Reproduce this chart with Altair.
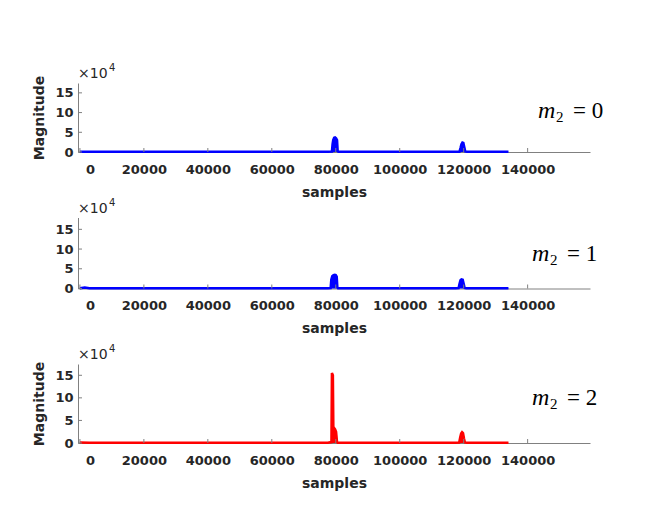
import altair as alt
import pandas as pd

# ---------------- data ----------------
x_ticks = [0, 20000, 40000, 60000, 80000, 100000, 120000, 140000]
y_ticks = [0, 50000, 100000, 150000]

# panel m2 = 0
x0 = [0, 3000, 6000, 10000, 14000, 18000, 22000, 26000, 30000, 34000, 38000,
      42000, 46000, 50000, 54000, 58000, 62000, 66000, 70000, 74000, 77500,
      78800, 79000, 79200, 79500, 79800, 80100, 80400, 80600, 80800,
      82000, 86000, 90000, 94000, 98000, 102000, 106000, 110000, 114000,
      117500, 118700, 119000, 119300, 119600, 119900, 120200, 120500, 121000,
      124000, 128000, 131000, 134000]
y0 = [900, 700, 800, 600, 700, 800, 600, 700, 800, 600, 700,
      800, 600, 700, 800, 600, 700, 800, 600, 700, 800,
      1000, 20000, 30000, 36000, 37000, 35000, 30000, 3000, 900,
      700, 800, 600, 700, 800, 600, 700, 800, 600,
      700, 900, 10000, 20000, 24000, 23000, 12000, 1500, 800,
      700, 600, 700, 600]

# panel m2 = 1
x1 = [0, 1500, 3000, 6000, 10000, 14000, 18000, 22000, 26000, 30000, 34000, 38000,
      42000, 46000, 50000, 54000, 58000, 62000, 66000, 70000, 74000, 77500,
      78400, 78600, 78900, 79300, 79700, 80000, 80300, 80500, 80700,
      82000, 86000, 90000, 94000, 98000, 102000, 106000, 110000, 114000,
      117500, 118400, 118700, 119000, 119300, 119700, 120000, 120300, 120800,
      124000, 128000, 131000, 134000]
y1 = [800, 2500, 800, 600, 700, 800, 600, 700, 800, 600, 700, 800,
      600, 700, 800, 600, 700, 800, 600, 700, 800, 700,
      1000, 22000, 31000, 34000, 34500, 34000, 30000, 3000, 900,
      700, 800, 600, 700, 800, 600, 700, 800, 600,
      700, 900, 12000, 21000, 23000, 22000, 12000, 1500, 800,
      700, 600, 700, 600]

# panel m2 = 2
x2 = [0, 3000, 6000, 10000, 14000, 18000, 22000, 26000, 30000, 34000, 38000,
      42000, 46000, 50000, 54000, 58000, 62000, 66000, 70000, 74000, 77500,
      78650, 78800, 79100, 79250, 79500, 79800, 80100, 80400, 80600,
      82000, 86000, 90000, 94000, 98000, 102000, 106000, 110000, 114000,
      117500, 118600, 118900, 119200, 119500, 119800, 120100, 120400, 121000,
      124000, 128000, 131000, 134000]
y2 = [900, 700, 800, 600, 700, 800, 600, 700, 800, 600, 700,
      800, 600, 700, 800, 600, 700, 800, 600, 700, 800,
      2000, 155000, 150000, 30000, 33000, 30000, 25000, 2000, 800,
      700, 800, 600, 700, 800, 600, 700, 800, 600,
      700, 900, 12000, 21000, 24000, 22000, 10000, 1200, 800,
      700, 600, 700, 600]

labels = ["0", "1", "2"]
colors = ["#0000FF", "#0000FF", "#FF0000"]

# ---------------- styling ----------------
AX = "#808080"
TXT = "#262626"
FONT = "DejaVu Sans"
X_DOMAIN = [-600, 159500]
W = 512


def panel(xs, ys, color, label, plot_h, group_h, ymax, show_title, label_x, label_y):
    df = pd.DataFrame({"x": xs, "y": ys})
    xscale = alt.Scale(domain=X_DOMAIN, nice=False, zero=False)
    yscale = alt.Scale(domain=[0, ymax], nice=False, range=[plot_h, 0])
    xaxis = alt.Axis(
        values=x_ticks, format="d", title="samples", ticks=False, grid=False,
        domainColor=AX, domainWidth=1, labelFont=FONT, labelFontSize=13,
        labelFontWeight="bold", labelColor=TXT, labelPadding=11,
        labelFlush=False, labelOverlap=False,
        labelOffset={"condition": {"test": "datum.value === 0", "value": 10}, "value": 0},
        titleFont=FONT, titleFontSize=14, titleFontWeight="bold",
        titleColor=TXT, titlePadding=9,
        offset=-(group_h - plot_h),
    )
    yaxis = alt.Axis(
        values=y_ticks, labelExpr="format(datum.value / 10000, 'd')",
        title="Magnitude" if show_title else "", ticks=False, grid=False,
        domainColor=AX, domainWidth=1, labelFont=FONT, labelFontSize=13,
        labelFontWeight="bold", labelColor=TXT, labelPadding=5,
        labelOverlap=False, labelFlush=False,
        titleFont=FONT, titleFontSize=14, titleFontWeight="bold",
        titleColor=TXT, titlePadding=8,
    )
    xenc = alt.X("x:Q", scale=xscale, axis=xaxis)
    yenc = alt.Y("y:Q", scale=yscale, axis=yaxis)

    area = alt.Chart(df).mark_area(
        color=color, opacity=1, line={"color": color, "strokeWidth": 2.5}
    ).encode(x=xenc, y=yenc)

    xt = alt.Chart(pd.DataFrame({"x": x_ticks})).mark_rule(color=AX, strokeWidth=1).encode(
        x=xenc, y=alt.value(plot_h), y2=alt.value(plot_h - 4)
    )
    yt = alt.Chart(pd.DataFrame({"y": y_ticks})).mark_rule(color=AX, strokeWidth=1).encode(
        y=yenc, x=alt.value(0), x2=alt.value(4)
    )

    one = pd.DataFrame({"k": [0]})
    times = alt.Chart(one).mark_text(
        text="×10", font=FONT, fontSize=14, color=TXT, align="left", baseline="alphabetic"
    ).encode(x=alt.value(0), y=alt.value(-5))
    sup = alt.Chart(one).mark_text(
        text="4", font=FONT, fontSize=10, color=TXT, align="left", baseline="alphabetic"
    ).encode(x=alt.value(31), y=alt.value(-12))

    m = alt.Chart(one).mark_text(
        text="m", font="Liberation Serif", fontSize=24, fontStyle="italic", color="black",
        align="left", baseline="alphabetic"
    ).encode(x=alt.value(label_x), y=alt.value(label_y))
    sub = alt.Chart(one).mark_text(
        text="2", font="Liberation Serif", fontSize=15, color="black",
        align="left", baseline="alphabetic"
    ).encode(x=alt.value(label_x + 18), y=alt.value(label_y + 4))
    eq = alt.Chart(one).mark_text(
        text="= " + label, font="Liberation Serif", fontSize=23, color="black",
        align="left", baseline="alphabetic"
    ).encode(x=alt.value(label_x + 35), y=alt.value(label_y))

    return alt.layer(area, xt, yt, times, sup, m, sub, eq).properties(
        width=W, height=group_h
    )


p0 = panel(x0, y0, colors[0], labels[0], 69, 69, 175000, True, 460, 35)
p1 = panel(x1, y1, colors[1], labels[1], 71, 80.2, 180000, False, 454, 43)
p2 = panel(x2, y2, colors[2], labels[2], 79, 79, 175000, True, 454, 41)

chart = alt.vconcat(p0, p1, p2, spacing=65.5).properties(
    bounds="flush",
    background="white",
    padding={"left": 24, "top": 55, "right": 5, "bottom": 5},
).configure_view(stroke="transparent", strokeWidth=0)

chart.save("out.html", embed_options={"renderer": "svg", "actions": False})
